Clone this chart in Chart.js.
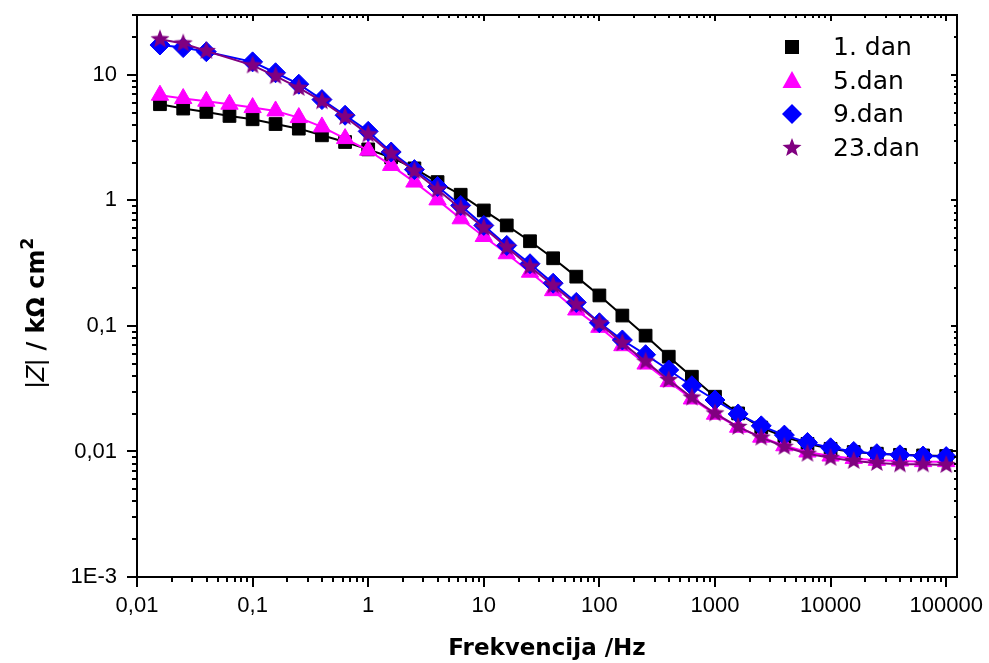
<!DOCTYPE html>
<html>
<head>
<meta charset="utf-8">
<script src="https://cdn.jsdelivr.net/npm/chart.js@4/dist/chart.umd.min.js"></script>
<style>
  html, body { margin: 0; padding: 0; background: #fff; }
  #wrap { width: 989px; height: 663px; }
</style>
</head>
<body>
<div id="wrap"><canvas id="myChart" width="989" height="663"></canvas></div>
<script>
// frequencies (Hz), 5 points per decade
const freq = [0.0158, 0.0251, 0.0398, 0.0631, 0.1, 0.158, 0.251, 0.398, 0.631, 1,
  1.58, 2.51, 3.98, 6.31, 10, 15.8, 25.1, 39.8, 63.1, 100,
  158, 251, 398, 631, 1000, 1585, 2512, 3981, 6310, 10000,
  15849, 25119, 39811, 63096, 100000];

// |Z| in kOhm cm2
const dan1 = [5.84, 5.39, 5.07, 4.71, 4.43, 4.06, 3.73, 3.30, 2.92, 2.55,
  2.20, 1.80, 1.40, 1.11, 0.832, 0.632, 0.473, 0.346, 0.247, 0.175,
  0.121, 0.0837, 0.0569, 0.0394, 0.0273, 0.0201, 0.0155, 0.0131, 0.0115, 0.0105,
  0.0099, 0.0096, 0.0094, 0.0093, 0.0092];
const dan5 = [6.89, 6.48, 6.17, 5.84, 5.49, 5.16, 4.57, 3.85, 3.11, 2.51,
  1.90, 1.40, 1.01, 0.714, 0.516, 0.376, 0.268, 0.191, 0.134, 0.0975,
  0.0696, 0.0497, 0.0360, 0.0262, 0.0198, 0.0156, 0.0130, 0.0111, 0.0099, 0.0092,
  0.0088, 0.0085, 0.0084, 0.0083, 0.0083];
const dan9 = [17.3, 16.5, 15.3, null, 12.7, 10.4, 8.43, 6.36, 4.77, 3.55,
  2.43, 1.76, 1.29, 0.912, 0.632, 0.438, 0.313, 0.219, 0.154, 0.106,
  0.0773, 0.0590, 0.0446, 0.0334, 0.0257, 0.0199, 0.0160, 0.0135, 0.0118, 0.0107,
  0.0100, 0.0096, 0.0094, 0.0092, 0.0091];
const dan23 = [19.2, 17.8, 15.5, null, 11.9, 9.77, 7.88, 6.17, 4.62, 3.36,
  2.36, 1.71, 1.22, 0.859, 0.605, 0.424, 0.297, 0.210, 0.148, 0.105,
  0.073, 0.052, 0.0371, 0.0269, 0.0201, 0.0157, 0.0129, 0.0109, 0.0096, 0.0089,
  0.0084, 0.0081, 0.0079, 0.0079, 0.0078];

const seriesNames = ['1. dan', '5.dan', '9.dan', '23.dan'];

const xTicks = [0.01, 0.1, 1, 10, 100, 1000, 10000, 100000];
const xTickLabels = ['0,01', '0,1', '1', '10', '100', '1000', '10000', '100000'];
const yTicks = [0.001, 0.01, 0.1, 1, 10];
const yTickLabels = ['1E-3', '0,01', '0,1', '1', '10'];

// 5-pointed star as an image, Chart.js 'star' is an asterisk
function makeStar(r, color) {
  const c = document.createElement('canvas');
  c.width = c.height = 2 * r + 2;
  const g = c.getContext('2d');
  g.fillStyle = color;
  g.beginPath();
  for (let i = 0; i < 10; i++) {
    const rad = i % 2 ? r * 0.42 : r;
    const a = -Math.PI / 2 + i * Math.PI / 5;
    g.lineTo(r + 1 + rad * Math.cos(a), r + 1 + rad * Math.sin(a));
  }
  g.closePath();
  g.fill();
  return c;
}
const starImg = makeStar(10, '#800080');

function toXY(ys) {
  return freq.map((f, i) => ({ x: f, y: ys[i] }));
}

const styles = [
  { color: '#000000', pointStyle: 'rect', radius: 9, order: 3 },
  { color: '#FF00FF', pointStyle: 'triangle', radius: 10, order: 2 },
  { color: '#0000FF', pointStyle: 'rectRot', radius: 10, order: 1 },
  { color: '#800080', pointStyle: starImg, radius: 10, order: 0 }
];
const allSeries = [dan1, dan5, dan9, dan23];

const datasets = allSeries.map((s, i) => ({
  label: seriesNames[i],
  data: toXY(s),
  borderColor: styles[i].color,
  backgroundColor: styles[i].color,
  pointBackgroundColor: styles[i].color,
  pointBorderColor: styles[i].color,
  pointBorderWidth: 1,
  pointStyle: styles[i].pointStyle,
  pointRadius: styles[i].radius,
  borderWidth: 2,
  tension: 0,
  spanGaps: true,
  order: styles[i].order
}));

// axes frame, log tick marks, y title and legend
const framePlugin = {
  id: 'frame',
  afterDraw(chart) {
    const ctx = chart.ctx;
    const a = chart.chartArea;
    const xs = chart.scales.x, ys = chart.scales.y;
    ctx.save();
    ctx.strokeStyle = '#000';
    ctx.lineWidth = 2;
    ctx.strokeRect(a.left, a.top, a.right - a.left, a.bottom - a.top);

    ctx.lineWidth = 2;
    ctx.beginPath();
    for (let d = -2; d <= 5; d++) {
      for (let m = 1; m <= 9; m++) {
        const v = m * Math.pow(10, d);
        if (v < xs.min || v > xs.max) continue;
        const px = Math.round(xs.getPixelForValue(v));
        const big = m === 1;
        ctx.moveTo(px, a.bottom); ctx.lineTo(px, a.bottom + (big ? 10 : 5));
        ctx.moveTo(px, a.top); ctx.lineTo(px, a.top + (big ? 6 : 3));
      }
    }
    for (let d = -3; d <= 1; d++) {
      for (let m = 1; m <= 9; m++) {
        const v = m * Math.pow(10, d);
        if (v < ys.min || v > ys.max) continue;
        const py = Math.round(ys.getPixelForValue(v));
        const big = m === 1;
        ctx.moveTo(a.left, py); ctx.lineTo(a.left - (big ? 10 : 5), py);
        ctx.moveTo(a.right, py); ctx.lineTo(a.right - (big ? 6 : 3), py);
      }
    }
    ctx.stroke();

    // y axis title |Z| / kΩ cm2
    ctx.fillStyle = '#000';
    ctx.textBaseline = 'alphabetic';
    const parts = [
      { t: '|', f: '26px "Liberation Sans"', dy: 0 },
      { t: 'Z', f: 'italic 26px "Liberation Sans"', dy: 0 },
      { t: '|', f: '26px "Liberation Sans"', dy: 0 },
      { t: ' / k\u03A9 cm', f: 'bold 24px "DejaVu Sans"', dy: 0 },
      { t: '2', f: 'bold 17px "DejaVu Sans"', dy: -11 }
    ];
    let total = 0;
    parts.forEach(p => { ctx.font = p.f; p.w = ctx.measureText(p.t).width; total += p.w; });
    ctx.translate(44, 313);
    ctx.rotate(-Math.PI / 2);
    let x = -total / 2;
    parts.forEach(p => { ctx.font = p.f; ctx.fillText(p.t, x, p.dy); x += p.w; });
    ctx.setTransform(1, 0, 0, 1, 0, 0);

    // legend
    const rows = [47, 81, 114, 148];
    ctx.font = '25px "DejaVu Sans"';
    ctx.textBaseline = 'middle';
    ctx.textAlign = 'left';
    seriesNames.forEach((name, i) => {
      const cx = 792, cy = rows[i];
      ctx.fillStyle = styles[i].color;
      ctx.beginPath();
      if (i === 0) {
        ctx.rect(cx - 7, cy - 7, 14, 14);
      } else if (i === 1) {
        ctx.moveTo(cx, cy - 10); ctx.lineTo(cx + 9.5, cy + 7); ctx.lineTo(cx - 9.5, cy + 7); ctx.closePath();
      } else if (i === 2) {
        ctx.moveTo(cx, cy - 10); ctx.lineTo(cx + 10, cy); ctx.lineTo(cx, cy + 10); ctx.lineTo(cx - 10, cy); ctx.closePath();
      }
      ctx.fill();
      if (i === 3) ctx.drawImage(starImg, cx - starImg.width / 2, cy - starImg.height / 2);
      ctx.fillStyle = '#000';
      ctx.fillText(name, 833, cy + 1);
    });
    ctx.restore();
  }
};

const ctx = document.getElementById('myChart').getContext('2d');
const myChart = new Chart(ctx, {
  type: 'line',
  data: { datasets: datasets },
  options: {
    responsive: false,
    animation: false,
    layout: { padding: { top: 15, right: 32, left: 0, bottom: 0 } },
    plugins: {
      legend: { display: false },
      tooltip: { enabled: false }
    },
    scales: {
      x: {
        type: 'logarithmic',
        min: 0.01,
        max: 124000,
        afterFit: (scale) => { scale.height = 86; scale.paddingLeft = 0; scale.paddingRight = 0; },
        afterBuildTicks: (scale) => { scale.ticks = xTicks.map(v => ({ value: v })); },
        grid: { display: false, drawTicks: false },
        border: { display: false },
        ticks: {
          autoSkip: false,
          maxRotation: 0,
          padding: 16,
          color: '#000',
          font: { family: '"Liberation Sans", Arial, sans-serif', size: 22 },
          callback: (v) => { const i = xTicks.indexOf(v); return i >= 0 ? xTickLabels[i] : ''; }
        },
        title: {
          display: true,
          text: 'Frekvencija /Hz',
          color: '#000',
          padding: { top: 0, bottom: 0 },
          font: { family: '"DejaVu Sans", sans-serif', size: 23, weight: 'bold' }
        }
      },
      y: {
        type: 'logarithmic',
        min: 0.001,
        max: 30,
        afterFit: (scale) => { scale.width = 137; scale.paddingTop = 0; scale.paddingBottom = 0; },
        afterBuildTicks: (scale) => { scale.ticks = yTicks.map(v => ({ value: v })); },
        grid: { display: false, drawTicks: false },
        border: { display: false },
        ticks: {
          autoSkip: false,
          padding: 20,
          color: '#000',
          font: { family: '"Liberation Sans", Arial, sans-serif', size: 22 },
          callback: (v) => { const i = yTicks.indexOf(v); return i >= 0 ? yTickLabels[i] : ''; }
        }
      }
    }
  },
  plugins: [framePlugin]
});
</script>
</body>
</html>
